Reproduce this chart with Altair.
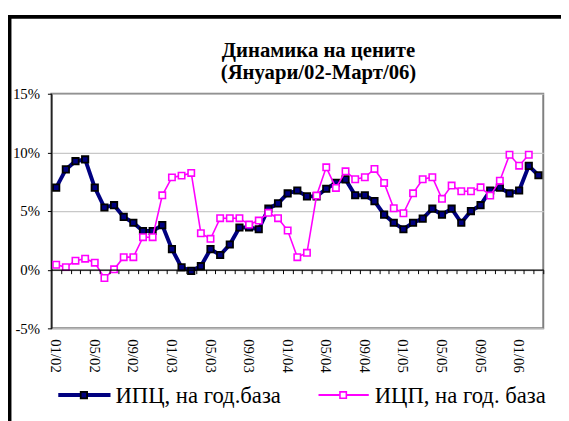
import altair as alt
import pandas as pd

years = ["02", "03", "04", "05", "06"]
month_nums = ["01", "02", "03", "04", "05", "06", "07", "08", "09", "10", "11", "12"]
months = [f"{m}/{y}" for y in years for m in month_nums][:51]
tick_labels = months[::4]

series_names = ["ИПЦ, на год.база", "ИЦП, на год. база"]
title_lines = ["Динамика на цените", "(Януари/02-Март/06)"]

ipc = [7.0, 8.55, 9.25, 9.4, 7.0, 5.3, 5.5, 4.5, 4.0, 3.3, 3.3, 3.8, 1.75, 0.2, -0.1,
       0.3, 1.75, 1.25, 2.15, 3.6, 3.6, 3.45, 5.2, 5.65, 6.5, 6.75, 6.25, 6.25, 6.9,
       7.4, 7.7, 6.35, 6.35, 5.85, 4.7, 4.0, 3.45, 4.0, 4.35, 5.2, 4.7, 5.2, 4.0, 5.0,
       5.5, 6.75, 7.0, 6.5, 6.75, 8.85, 8.05]
icp = [0.42, 0.22, 0.77, 0.94, 0.6, -0.71, 0.03, 1.07, 1.07, 2.77, 2.77,
       6.34, 7.87, 8.02, 8.25,
       3.11, 2.63, 4.39, 4.39, 4.39, 3.85, 4.19, 4.85, 4.39, 3.34, 1.07, 1.44,
       6.32, 8.73, 6.97, 8.39, 7.71, 7.88, 8.59,
       7.40, 5.24, 4.81, 6.51, 7.71, 7.88, 6.04, 7.17, 6.69, 6.69, 7.02, 6.32, 7.59,
       9.80, 8.87, 9.80, None]

y_ticks = [-5, 0, 5, 10, 15]

df = pd.DataFrame({"month": months, "ipc": ipc, "icp": icp})
d_ipc = df[["month", "ipc"]].rename(columns={"ipc": "v"}).dropna()
d_icp = df[["month", "icp"]].rename(columns={"icp": "v"}).dropna()
d_labels = pd.DataFrame({"month": tick_labels})

SERIF = "Liberation Serif"
W, H = 499, 238
NAVY = "#000080"
MAG = "#FF00FF"
ZERO_PX = H * 15 / 20          # pixel row of 0% inside the plot

xscale = alt.Scale(type="band", domain=months, paddingInner=0, paddingOuter=0)
yscale = alt.Scale(domain=[-5, 15], nice=False, zero=False)

yaxis = alt.Axis(values=y_ticks, labelExpr="datum.value + '%'", grid=True,
                 gridColor="#c8c8c8", gridWidth=1.2, domainColor="black",
                 domainWidth=1.2, tickColor="black", tickSize=4,
                 labelFont=SERIF, labelFontSize=15, labelColor="black",
                 labelPadding=8, title=None)

# category axis crossing at 0%: domain + ticks on band boundaries, no labels
x_axis = alt.Axis(values=months, tickBand="extent", ticks=True, tickSize=4,
                  tickColor="black", tickWidth=1, domain=True, domainColor="black",
                  domainWidth=1.2, offset=-(H - ZERO_PX), labels=False,
                  grid=False, title=None, zindex=1)

X = alt.X("month:N", scale=xscale, axis=x_axis, sort=months)
Y = alt.Y("v:Q", scale=yscale, axis=yaxis)

base_ipc = alt.Chart(d_ipc)
base_icp = alt.Chart(d_icp)

line_ipc = base_ipc.mark_line(color=NAVY, strokeWidth=4).encode(x=X, y=Y)
pts_ipc = base_ipc.mark_square(size=42, fill=NAVY, stroke="black", strokeWidth=1.8,
                               opacity=1).encode(x=X, y=Y)
line_icp = base_icp.mark_line(color=MAG, strokeWidth=1.6).encode(x=X, y=Y)
pts_icp = base_icp.mark_square(size=42, fill="white", stroke=MAG, strokeWidth=1.6,
                               opacity=1).encode(x=X, y=Y)

# rotated category labels below the plot, positioned by the band scale
x_labels = alt.Chart(d_labels).mark_text(
    angle=90, align="left", baseline="middle", font=SERIF, fontSize=15,
    color="black").encode(x=X, y=alt.value(H + 11), text="month:N")

one = alt.Data(values=[{"a": 1}])

LY = 305.7
FS = 23
leg = [
    alt.Chart(one).mark_rule(color=NAVY, strokeWidth=4).encode(
        x=alt.value(7), x2=alt.value(60), y=alt.value(LY)),
    alt.Chart(one).mark_square(size=42, fill=NAVY, stroke="black", strokeWidth=1.8,
                               opacity=1).encode(x=alt.value(33), y=alt.value(LY)),
    alt.Chart(one).mark_text(font=SERIF, fontSize=FS, align="left", baseline="middle",
                             color="black").encode(
        x=alt.value(65), y=alt.value(LY + 1), text=alt.value(series_names[0])),
    alt.Chart(one).mark_rule(color=MAG, strokeWidth=2).encode(
        x=alt.value(271), x2=alt.value(322), y=alt.value(LY)),
    alt.Chart(one).mark_square(size=42, fill="white", stroke=MAG, strokeWidth=1.6,
                               opacity=1).encode(x=alt.value(296), y=alt.value(LY)),
    alt.Chart(one).mark_text(font=SERIF, fontSize=FS, align="left", baseline="middle",
                             color="black").encode(
        x=alt.value(328), y=alt.value(LY + 1), text=alt.value(series_names[1])),
]

titles = [
    alt.Chart(one).mark_text(font=SERIF, fontSize=21, fontWeight="bold", align="center",
                             baseline="alphabetic", color="black").encode(
        x=alt.value(271), y=alt.value(-37), text=alt.value(title_lines[0])),
    alt.Chart(one).mark_text(font=SERIF, fontSize=21, fontWeight="bold", align="center",
                             baseline="alphabetic", color="black").encode(
        x=alt.value(271), y=alt.value(-15), text=alt.value(title_lines[1])),
]

frame = [
    alt.Chart(one).mark_rule(color="black", strokeWidth=4).encode(
        x=alt.value(-42.5), y=alt.value(-80), y2=alt.value(400)),
    alt.Chart(one).mark_rule(color="black", strokeWidth=4).encode(
        x=alt.value(-44.5), x2=alt.value(560), y=alt.value(-78)),
]

chart = alt.layer(
    line_ipc, pts_ipc, line_icp, pts_icp, x_labels, *leg, *titles, *frame
).properties(
    width=W, height=H,
    autosize=alt.AutoSizeParams(type="none"),
    padding={"left": 44, "top": 84, "right": 18, "bottom": 91},
).configure_view(stroke="#808080", strokeWidth=2)

chart.save("out.html", embed_options={"renderer": "svg", "actions": False})
